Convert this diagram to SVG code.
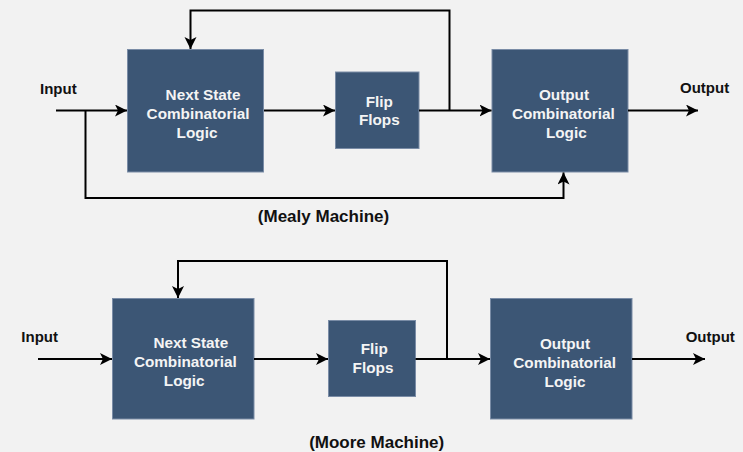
<svg xmlns="http://www.w3.org/2000/svg" width="743" height="452" viewBox="0 0 743 452">
  <defs>
    <marker id="arrow" markerUnits="userSpaceOnUse" markerWidth="13" markerHeight="13" refX="12" refY="6" orient="auto">
      <path d="M0,0 L12,6 L0,12 L3,6 Z" fill="#000"/>
    </marker>
  </defs>
  <style>
    .box { fill: #3c5675; stroke: #7a8ca6; stroke-width: 1; }
    .lbl { font-family: "Liberation Sans", Arial, sans-serif; font-weight: bold; font-size: 15.3px; fill: #f4f4f4; text-anchor: middle; }
    .io { font-family: "Liberation Sans", Arial, sans-serif; font-weight: bold; font-size: 15px; fill: #111; }
    .cap { font-family: "Liberation Sans", Arial, sans-serif; font-weight: bold; font-size: 17px; fill: #111; text-anchor: middle; }
    .wire { fill: none; stroke: #000; stroke-width: 2; }
    .arr { marker-end: url(#arrow); }
  </style>
  <rect width="743" height="452" fill="#f2f2f2"/>

  <!-- Mealy machine -->
  <g id="mealy-next-state">
    <rect class="box" x="127.5" y="49.5" width="136" height="122.5"/>
    <text class="lbl" x="203" y="100">Next State</text>
    <text class="lbl" x="198" y="119.3">Combinatorial</text>
    <text class="lbl" x="197" y="138.3">Logic</text>
  </g>
  <g id="mealy-flip-flops">
    <rect class="box" x="335.5" y="72" width="83.5" height="76.5"/>
    <text class="lbl" x="379.3" y="106.7">Flip</text>
    <text class="lbl" x="379.3" y="125">Flops</text>
  </g>
  <g id="mealy-output-logic">
    <rect class="box" x="492" y="49.5" width="136" height="122.5"/>
    <text class="lbl" x="564" y="100">Output</text>
    <text class="lbl" x="563.3" y="119.3">Combinatorial</text>
    <text class="lbl" x="566.3" y="138.3">Logic</text>
  </g>
  <text class="io" x="40" y="94">Input</text>
  <text class="io" x="680" y="93">Output</text>
  <text class="cap" x="323.5" y="222">(Mealy Machine)</text>

  <!-- Moore machine -->
  <g id="moore-next-state">
    <rect class="box" x="112.5" y="298.5" width="141.5" height="120.5"/>
    <text class="lbl" x="190.8" y="348.3">Next State</text>
    <text class="lbl" x="185.3" y="367.3">Combinatorial</text>
    <text class="lbl" x="184.2" y="385.7">Logic</text>
  </g>
  <g id="moore-flip-flops">
    <rect class="box" x="328.5" y="320.5" width="87" height="76"/>
    <text class="lbl" x="374.3" y="354.3">Flip</text>
    <text class="lbl" x="373" y="373.3">Flops</text>
  </g>
  <g id="moore-output-logic">
    <rect class="box" x="490.5" y="298.5" width="141.5" height="120.5"/>
    <text class="lbl" x="565" y="349">Output</text>
    <text class="lbl" x="564.7" y="368">Combinatorial</text>
    <text class="lbl" x="565" y="386.5">Logic</text>
  </g>
  <text class="io" x="21.3" y="342.3">Input</text>
  <text class="io" x="685.7" y="342.3">Output</text>
  <text class="cap" x="376.7" y="447.5">(Moore Machine)</text>

  <!-- Connectors -->
  <g id="connectors">
    <path class="wire arr" d="M56,110.5 H127"/>
    <path class="wire arr" d="M85.5,110.5 V198 H563.5 V172.5"/>
    <path class="wire arr" d="M264,110.5 H335"/>
    <path class="wire arr" d="M419,110.5 H491.5"/>
    <path class="wire arr" d="M449.5,110.5 V10.5 H190.5 V49"/>
    <path class="wire arr" d="M628,110.5 H698"/>

    <path class="wire arr" d="M38,359 H112"/>
    <path class="wire arr" d="M254,359 H328"/>
    <path class="wire arr" d="M415.5,359 H490"/>
    <path class="wire arr" d="M447,359 V261 H178 V298"/>
    <path class="wire arr" d="M632,359 H705"/>
  </g>
</svg>
